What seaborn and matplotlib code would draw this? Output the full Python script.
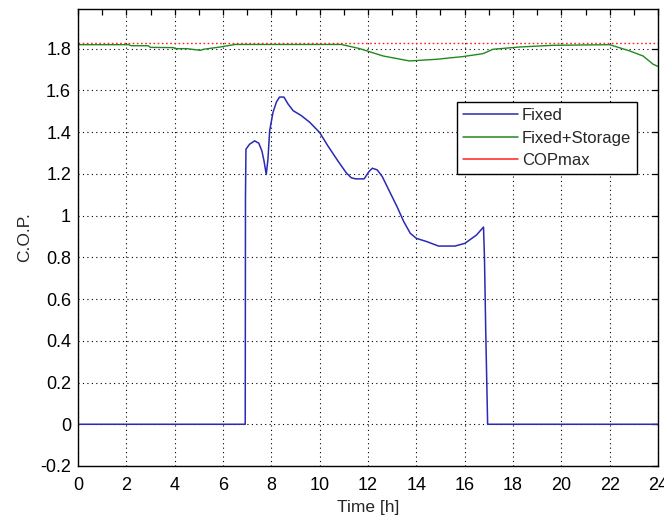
import numpy as np
import pandas as pd
import matplotlib
matplotlib.use("Agg")
import matplotlib.pyplot as plt
from matplotlib.lines import Line2D
from matplotlib.ticker import MultipleLocator
import seaborn as sns

# ---- data ----
fixed_t = [0, 6.92, 6.93, 6.95, 7.10, 7.31, 7.48, 7.61, 7.70, 7.79, 7.86, 7.93, 8.07,
           8.21, 8.34, 8.52, 8.69, 8.90, 9.24, 9.59, 10.0, 10.34, 10.76, 11.10, 11.31,
           11.49, 11.84, 12.04, 12.18, 12.38, 12.59, 12.86, 13.20, 13.48, 13.75, 14.0,
           14.44, 14.92, 15.60, 16.01, 16.49, 16.78, 16.82, 16.87, 16.95, 17.0, 24]
fixed_v = [0, 0, 1.09, 1.318, 1.342, 1.358, 1.347, 1.31, 1.26, 1.197, 1.27, 1.406, 1.495,
           1.544, 1.568, 1.568, 1.535, 1.503, 1.479, 1.447, 1.398, 1.334, 1.261, 1.205,
           1.181, 1.176, 1.176, 1.211, 1.227, 1.219, 1.187, 1.123, 1.043, 0.971, 0.915,
           0.891, 0.875, 0.854, 0.854, 0.867, 0.907, 0.945, 0.795, 0.457, 0.0, 0.0, 0.0]

storage_t = [0, 2.1, 2.2, 2.9, 3.0, 3.96, 4.0, 4.5, 5.06, 5.2, 5.89, 6.5, 10.9, 11.66,
             12.62, 13.72, 14.83, 15.93, 16.76, 17.17, 18.28, 19.66, 22.0, 22.83, 23.38,
             23.8, 24.0]
storage_v = [1.819, 1.819, 1.814, 1.814, 1.806, 1.805, 1.80, 1.80, 1.792, 1.797, 1.808,
             1.820, 1.820, 1.80, 1.765, 1.741, 1.749, 1.762, 1.776, 1.797, 1.808, 1.816,
             1.819, 1.789, 1.765, 1.725, 1.715]

copmax_t = [0, 24]
copmax_v = [1.827, 1.827]

series_names = ["Fixed", "Fixed+Storage", "COPmax"]
x_ticks = list(range(0, 25, 2))
y_ticks = [-0.2, 0, 0.2, 0.4, 0.6, 0.8, 1, 1.2, 1.4, 1.6, 1.8]
y_tick_labels = ["-0.2", "0", "0.2", "0.4", "0.6", "0.8", "1", "1.2", "1.4", "1.6", "1.8"]

# ---- style ----
sns.set_style("white")
plt.rcParams["font.family"] = ["Liberation Sans", "DejaVu Sans"]

fig = plt.figure(figsize=(6.64, 5.17), dpi=100)
fig.patch.set_facecolor("white")
ax = fig.add_axes([78 / 664, 51 / 517, 580 / 664, 457 / 517])

colors = {"Fixed": "#2a2ab4", "Fixed+Storage": "#1f8a1f", "COPmax": "#ff2020"}

df_fixed = pd.DataFrame({"t": fixed_t, "v": fixed_v})
df_stor = pd.DataFrame({"t": storage_t, "v": storage_v})
df_max = pd.DataFrame({"t": copmax_t, "v": copmax_v})

sns.lineplot(data=df_fixed, x="t", y="v", ax=ax, color=colors["Fixed"], lw=1.1,
             sort=False, estimator=None)
sns.lineplot(data=df_stor, x="t", y="v", ax=ax, color=colors["Fixed+Storage"], lw=1.0,
             sort=False, estimator=None)
sns.lineplot(data=df_max, x="t", y="v", ax=ax, color=colors["COPmax"], lw=1.0,
             linestyle=(0, (1.2, 1.8)), sort=False, estimator=None)

ax.set_xlim(0, 24)
ax.set_ylim(-0.2, 1.99)
ax.set_xticks(x_ticks)
ax.set_xticklabels([str(t) for t in x_ticks])
ax.xaxis.set_minor_locator(MultipleLocator(1))
ax.set_yticks(y_ticks)
ax.set_yticklabels(y_tick_labels)

ax.grid(True, which="major", color="black", linestyle=(0, (1, 3)), linewidth=0.8)
ax.set_axisbelow(True)
for s in ax.spines.values():
    s.set_visible(True)
    s.set_color("black")
    s.set_linewidth(1.0)

ax.tick_params(which="both", direction="in", top=True, right=True, length=4,
               width=0.9, colors="black", labelsize=13)
ax.tick_params(axis="x", pad=8)
ax.tick_params(axis="y", pad=5)

ax.set_xlabel("Time [h]", fontsize=12.5, labelpad=4)
ax.set_ylabel("C.O.P.", fontsize=12.5, labelpad=6)

handles = [Line2D([], [], color=colors[n], lw=1.1) for n in series_names]
leg = ax.legend(handles, series_names, loc="upper right",
                bbox_to_anchor=(0.964, 0.796), fontsize=12, frameon=True,
                fancybox=False, edgecolor="black", framealpha=1,
                handlelength=3.3, handletextpad=0.25, labelspacing=0.45,
                borderpad=0.35, borderaxespad=0)
leg.get_frame().set_linewidth(1.0)

fig.savefig("out.png", dpi=100, facecolor="white")
